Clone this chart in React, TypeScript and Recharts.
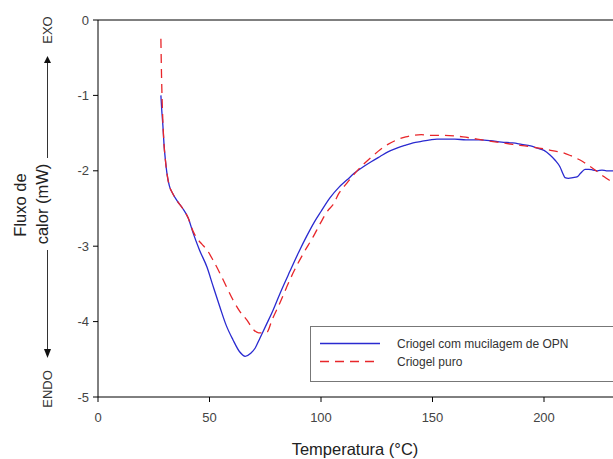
import React from 'react';
import { LineChart, Line, XAxis, YAxis, ReferenceLine, Legend } from 'recharts';

// Temperature (°C) and heat flow (mW)
const opnTemp: number[] = [
  28.2, 28.6, 29.1, 29.6, 30.2, 31, 32, 33.5, 35.5, 38, 40.5, 42.6, 45.5, 48.9, 51.5, 54.7,
  57.5, 60.5, 63.5, 66, 68.5, 70.5, 72.6, 75.5, 78.5, 82, 86.1, 90, 93.7, 97, 100, 104,
  108, 111.7, 115, 118.8, 122.5, 126.5, 130, 134, 138, 141.3, 145, 148.9, 152, 156.5, 160,
  165, 171.3, 176, 181, 186, 190, 194, 197, 200, 202.7, 205, 207.2, 208.5, 209.4, 211,
  213, 214.8, 216.5, 218.4, 220, 222, 224, 226, 228, 231, 234,
];
const opnFlow: number[] = [
  -1.0, -1.2, -1.4, -1.65, -1.85, -2.05, -2.2, -2.3, -2.4, -2.5, -2.63, -2.82, -3.05, -3.28, -3.52, -3.81,
  -4.05, -4.24, -4.4, -4.46, -4.42, -4.35, -4.22, -4.04, -3.85, -3.6, -3.33, -3.08, -2.86, -2.68, -2.54, -2.36,
  -2.22, -2.12, -2.03, -1.95, -1.88, -1.81, -1.75, -1.7, -1.66, -1.63, -1.61, -1.59, -1.58, -1.58, -1.58,
  -1.59, -1.59, -1.6, -1.62, -1.63, -1.65, -1.67, -1.7, -1.73, -1.79, -1.86, -1.95, -2.04, -2.09, -2.1,
  -2.09, -2.08, -2.03, -1.98, -1.98, -1.99, -2.0, -1.99, -2.0, -2.0, -2.01,
];

const pureTemp: number[] = [
  28.2, 28.4, 28.7, 29.1, 29.6, 30.2, 31, 32, 33.5, 35.5, 38, 40.5, 42.6, 44.5, 46.5, 48.9,
  51.5, 54.7, 57.5, 60.5, 63.5, 66.8, 69.5, 72, 74, 75.8, 78, 81.6, 84.5, 87.4, 92, 96.4,
  100, 103, 105.4, 108, 111.7, 115, 118.8, 122.5, 126.5, 130, 134, 138, 141.3, 145, 148.9,
  155, 163.7, 170, 179, 186, 193.7, 200, 205, 208.5, 212, 215, 217.5, 220.5, 223.8, 227, 231, 234,
];
const pureFlow: number[] = [
  -0.25, -0.6, -1.0, -1.35, -1.65, -1.85, -2.05, -2.2, -2.3, -2.4, -2.5, -2.63, -2.8, -2.9, -2.97, -3.05,
  -3.18, -3.36, -3.53, -3.71, -3.86, -3.98, -4.1, -4.15, -4.15, -4.14, -3.98, -3.75, -3.55, -3.36, -3.1, -2.88,
  -2.68, -2.53, -2.45, -2.3, -2.16, -2.04, -1.92, -1.82, -1.72, -1.65, -1.59, -1.55, -1.53, -1.52, -1.53,
  -1.53, -1.55, -1.58, -1.62, -1.65, -1.68, -1.71, -1.74, -1.76, -1.8, -1.84, -1.88, -1.94, -2.01, -2.08, -2.16, -2.23,
];

// the 250 tick lies past the visible edge in the original, so it is left out
const xTicks = [0, 50, 100, 150, 200];
const yTicks = [-5, -4, -3, -2, -1, 0];

const seriesNames = ['Criogel com mucilagem de OPN', 'Criogel puro'];
const BLUE = '#2a2ad0';
const RED = '#e8262a';
const FONT = '"Liberation Sans", Arial, sans-serif';

const opnData = opnTemp.map((t, i) => ({ temp: t, flow: opnFlow[i] }));
const pureData = pureTemp.map((t, i) => ({ temp: t, flow: pureFlow[i] }));

// legend box, drawn like the original plot's framed key
const LegendBox = () => (
  <svg width={310} height={56} style={{ display: 'block' }}>
    <rect x={0.5} y={0.5} width={328} height={55} fill="#fff" stroke="#777" />
    <line x1={10} x2={70} y1={17.5} y2={17.5} stroke={BLUE} strokeWidth={1.3} />
    <line x1={10} x2={70} y1={35.5} y2={35.5} stroke={RED} strokeWidth={1.3} strokeDasharray="9 6" />
    <text x={87} y={22} fontSize={12} fill="#333" fontFamily={FONT}>{seriesNames[0]}</text>
    <text x={87} y={40} fontSize={12} fill="#333" fontFamily={FONT}>{seriesNames[1]}</text>
  </svg>
);

export default function App() {
  return (
    <div style={{ position: 'fixed', left: 0, top: 0, width: 613, height: 459, overflow: 'hidden', background: '#fff' }}>
      <LineChart
        width={700}
        height={459}
        margin={{ top: 20, right: 44.5, left: 38, bottom: 32 }}
      >
        <XAxis
          type="number"
          dataKey="temp"
          domain={[0, 250]}
          ticks={xTicks}
          allowDataOverflow
          height={30}
          stroke="#000"
          tickSize={5}
          tickMargin={11}
          tick={{ fontSize: 13, fill: '#444', fontFamily: FONT }}
        />
        <YAxis
          type="number"
          dataKey="flow"
          domain={[-5, 0]}
          ticks={yTicks}
          width={60}
          stroke="#000"
          tickSize={5}
          tickMargin={4}
          tick={{ fontSize: 13, fill: '#444', fontFamily: FONT }}
        />
        <ReferenceLine y={0} stroke="#000" />
        <Legend
          layout="vertical"
          align="center"
          verticalAlign="middle"
          wrapperStyle={{ top: 326, left: 310, width: 310 }}
          content={() => <LegendBox />}
        />
        <Line
          data={opnData}
          dataKey="flow"
          name={seriesNames[0]}
          type="monotone"
          stroke={BLUE}
          strokeWidth={1.3}
          dot={false}
          isAnimationActive={false}
        />
        <Line
          data={pureData}
          dataKey="flow"
          name={seriesNames[1]}
          type="monotone"
          stroke={RED}
          strokeWidth={1.3}
          strokeDasharray="9 6"
          dot={false}
          isAnimationActive={false}
        />
      </LineChart>

      {/* axis titles and the EXO / ENDO arrows */}
      <svg
        width={613}
        height={459}
        style={{ position: 'absolute', left: 0, top: 0, pointerEvents: 'none' }}
        fontFamily={FONT}
      >
        <text x={355} y={455} textAnchor="middle" fontSize={16.5} fill="#222">Temperatura (°C)</text>
        <text transform="translate(26,205) rotate(-90)" textAnchor="middle" fontSize={16.5} fill="#222">Fluxo de</text>
        <text transform="translate(48,204) rotate(-90)" textAnchor="middle" fontSize={16.5} fill="#222">calor (mW)</text>
        <text transform="translate(52,30) rotate(-90)" textAnchor="middle" fontSize={13} fill="#333">EXO</text>
        <text transform="translate(52,389) rotate(-90)" textAnchor="middle" fontSize={13} fill="#333">ENDO</text>
        <line x1={47.5} x2={47.5} y1={62} y2={158} stroke="#333" />
        <polygon points="44,63 51,63 47.5,56" fill="#111" />
        <line x1={47.5} x2={47.5} y1={250} y2={350} stroke="#333" />
        <polygon points="44,349 51,349 47.5,358" fill="#111" />
      </svg>
    </div>
  );
}
